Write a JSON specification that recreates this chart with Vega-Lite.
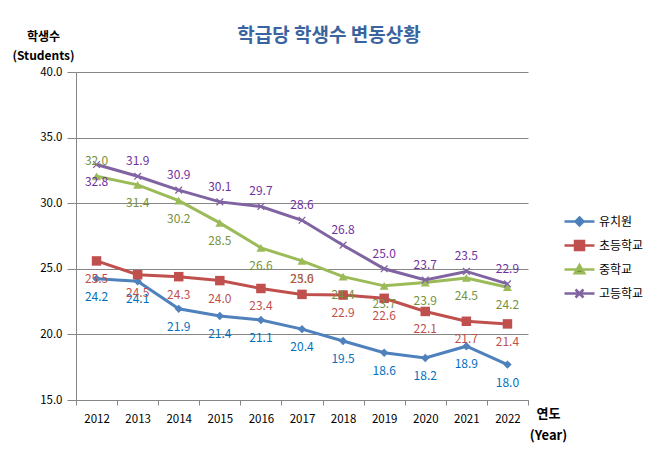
{
  "$schema": "https://vega.github.io/schema/vega-lite/v6.json",
  "width": 452,
  "height": 328,
  "autosize": {"type": "none"},
  "padding": {"left": 76, "top": 72, "right": 127, "bottom": 62},
  "background": "white",
  "title": {
    "text": "학급당 학생수 변동상황",
    "font": "Noto Sans CJK KR",
    "fontSize": 19,
    "fontWeight": "bold",
    "color": "#3a64a0",
    "anchor": "middle",
    "frame": "group",
    "dx": 27,
    "dy": 26,
    "offset": 10
  },
  "config": {
    "view": {"stroke": null},
    "font": "Noto Sans CJK KR"
  },
  "data": {
    "values": [
      {"series": "유치원", "year": "2012", "value": 24.25, "label": "24.2"},
      {"series": "유치원", "year": "2013", "value": 24.05, "label": "24.1"},
      {"series": "유치원", "year": "2014", "value": 21.95, "label": "21.9"},
      {"series": "유치원", "year": "2015", "value": 21.4, "label": "21.4"},
      {"series": "유치원", "year": "2016", "value": 21.1, "label": "21.1"},
      {"series": "유치원", "year": "2017", "value": 20.4, "label": "20.4"},
      {"series": "유치원", "year": "2018", "value": 19.5, "label": "19.5"},
      {"series": "유치원", "year": "2019", "value": 18.6, "label": "18.6"},
      {"series": "유치원", "year": "2020", "value": 18.2, "label": "18.2"},
      {"series": "유치원", "year": "2021", "value": 19.1, "label": "18.9"},
      {"series": "유치원", "year": "2022", "value": 17.7, "label": "18.0"},
      {"series": "초등학교", "year": "2012", "value": 25.6, "label": "25.5"},
      {"series": "초등학교", "year": "2013", "value": 24.55, "label": "24.5"},
      {"series": "초등학교", "year": "2014", "value": 24.4, "label": "24.3"},
      {"series": "초등학교", "year": "2015", "value": 24.1, "label": "24.0"},
      {"series": "초등학교", "year": "2016", "value": 23.5, "label": "23.4"},
      {"series": "초등학교", "year": "2017", "value": 23.05, "label": "23.0"},
      {"series": "초등학교", "year": "2018", "value": 23.0, "label": "22.9"},
      {"series": "초등학교", "year": "2019", "value": 22.75, "label": "22.6"},
      {"series": "초등학교", "year": "2020", "value": 21.75, "label": "22.1"},
      {"series": "초등학교", "year": "2021", "value": 21.0, "label": "21.7"},
      {"series": "초등학교", "year": "2022", "value": 20.8, "label": "21.4"},
      {"series": "중학교", "year": "2012", "value": 32.05, "label": "32.0"},
      {"series": "중학교", "year": "2013", "value": 31.4, "label": "31.4"},
      {"series": "중학교", "year": "2014", "value": 30.2, "label": "30.2"},
      {"series": "중학교", "year": "2015", "value": 28.5, "label": "28.5"},
      {"series": "중학교", "year": "2016", "value": 26.6, "label": "26.6"},
      {"series": "중학교", "year": "2017", "value": 25.6, "label": "25.6"},
      {"series": "중학교", "year": "2018", "value": 24.4, "label": "24.4"},
      {"series": "중학교", "year": "2019", "value": 23.7, "label": "23.7"},
      {"series": "중학교", "year": "2020", "value": 23.95, "label": "23.9"},
      {"series": "중학교", "year": "2021", "value": 24.3, "label": "24.5"},
      {"series": "중학교", "year": "2022", "value": 23.6, "label": "24.2"},
      {"series": "고등학교", "year": "2012", "value": 32.95, "label": "32.8"},
      {"series": "고등학교", "year": "2013", "value": 32.05, "label": "31.9"},
      {"series": "고등학교", "year": "2014", "value": 31.0, "label": "30.9"},
      {"series": "고등학교", "year": "2015", "value": 30.1, "label": "30.1"},
      {"series": "고등학교", "year": "2016", "value": 29.75, "label": "29.7"},
      {"series": "고등학교", "year": "2017", "value": 28.7, "label": "28.6"},
      {"series": "고등학교", "year": "2018", "value": 26.8, "label": "26.8"},
      {"series": "고등학교", "year": "2019", "value": 25.0, "label": "25.0"},
      {"series": "고등학교", "year": "2020", "value": 24.15, "label": "23.7"},
      {"series": "고등학교", "year": "2021", "value": 24.8, "label": "23.5"},
      {"series": "고등학교", "year": "2022", "value": 23.85, "label": "22.9"}
    ]
  },
  "encoding": {
    "x": {
      "field": "year",
      "type": "ordinal",
      "bandPosition": 0.5,
      "scale": {"type": "band", "paddingInner": 0, "paddingOuter": 0},
      "axis": {
        "labelAngle": 0,
        "labelFont": "Noto Sans CJK KR",
        "labelFontSize": 11.5,
        "labelColor": "#000000",
        "labelPadding": 8,
        "domainColor": "#868686",
        "tickColor": "#868686",
        "tickBand": "extent",
        "tickSize": 5,
        "grid": false,
        "title": ["연도", "(Year)"],
        "titleFont": "Noto Sans CJK KR",
        "titleFontSize": 13,
        "titleFontWeight": "bold",
        "titleColor": "#000000",
        "titleAngle": 0,
        "titleAlign": "center",
        "titleBaseline": "middle",
        "titleX": 472,
        "titleY": 13,
        "titleLineHeight": 22
      }
    },
    "y": {
      "field": "value",
      "type": "quantitative",
      "scale": {"domain": [15, 40]},
      "axis": {
        "values": [15, 20, 25, 30, 35, 40],
        "format": ".1f",
        "labelFont": "Noto Sans CJK KR",
        "labelFontSize": 11.5,
        "labelColor": "#000000",
        "labelPadding": 5,
        "domainColor": "#868686",
        "tickColor": "#868686",
        "tickSize": 9,
        "gridColor": "#868686",
        "gridWidth": 1,
        "title": ["학생수", "(Students)"],
        "titleFont": "Noto Sans CJK KR",
        "titleFontSize": 12,
        "titleFontWeight": "bold",
        "titleColor": "#000000",
        "titleAngle": 0,
        "titleAlign": "center",
        "titleBaseline": "middle",
        "titleX": -33,
        "titleY": -36,
        "titleLineHeight": 19
      }
    }
  },
  "layer": [
    {
      "mark": {"type": "line", "strokeWidth": 3},
      "encoding": {
        "color": {
          "field": "series",
          "type": "nominal",
          "scale": {
            "domain": ["유치원", "초등학교", "중학교", "고등학교"],
            "range": ["#4f81bd", "#c0504d", "#9bbb59", "#8064a2"]
          },
          "legend": {
            "title": null,
            "orient": "none",
            "legendX": 497,
            "legendY": 143,
            "labelFont": "Noto Sans CJK KR",
            "labelFontSize": 12,
            "labelColor": "#000000",
            "symbolSize": 100,
            "symbolStrokeWidth": 2.5,
            "rowPadding": 5,
            "labelOffset": 13,
            "encode": {
              "symbols": {
                "update": {
                  "shape": {"signal": "datum.value == '유치원' ? 'M-3,0L3,0M0,-0.8L0.8,0L0,0.8L-0.8,0Z' : datum.value == '초등학교' ? 'M-3,0L3,0M-0.9,-0.9L0.9,-0.9L0.9,0.9L-0.9,0.9Z' : datum.value == '중학교' ? 'M-3,0L3,0M0,-0.9L0.95,0.75L-0.95,0.75Z' : 'M-3,0L3,0M-0.8,-0.8L0.8,0.8M-0.8,0.8L0.8,-0.8'"},
                  "fill": {"signal": "scale('color', datum.value)"},
                  "fillOpacity": {"value": 1}
                }
              }
            }
          }
        }
      }
    },
    {
      "transform": [{"filter": "datum.series == '유치원'"}],
      "mark": {"type": "point", "shape": "diamond", "filled": true, "color": "#4f81bd", "size": 70, "opacity": 1}
    },
    {
      "transform": [{"filter": "datum.series == '초등학교'"}],
      "mark": {"type": "point", "shape": "square", "filled": true, "color": "#c0504d", "size": 90, "opacity": 1}
    },
    {
      "transform": [{"filter": "datum.series == '중학교'"}],
      "mark": {"type": "point", "shape": "triangle-up", "filled": true, "color": "#9bbb59", "size": 80, "opacity": 1}
    },
    {
      "transform": [{"filter": "datum.series == '고등학교'"}],
      "mark": {"type": "point", "shape": "M-1,-1L1,1M-1,1L1,-1", "filled": false, "color": "#8064a2", "strokeWidth": 1.3, "size": 45, "opacity": 1}
    },
    {
      "transform": [
        {"filter": "!((datum.series == '고등학교' && datum.year != '2012') || (datum.series == '중학교' && datum.year == '2012') || (datum.series == '초등학교' && datum.year == '2017'))"}
      ],
      "mark": {"type": "text", "font": "Noto Sans CJK KR", "fontSize": 12, "baseline": "middle", "dy": 18},
      "encoding": {
        "text": {"field": "label"},
        "fill": {
          "field": "series",
          "type": "nominal",
          "legend": null,
          "scale": {
            "domain": ["유치원", "초등학교", "중학교", "고등학교"],
            "range": ["#0070c0", "#c0504d", "#76923c", "#7030a0"]
          }
        }
      }
    },
    {
      "transform": [
        {"filter": "(datum.series == '고등학교' && datum.year != '2012') || (datum.series == '중학교' && datum.year == '2012') || (datum.series == '초등학교' && datum.year == '2017')"}
      ],
      "mark": {"type": "text", "font": "Noto Sans CJK KR", "fontSize": 12, "baseline": "middle", "dy": -15},
      "encoding": {
        "text": {"field": "label"},
        "fill": {
          "field": "series",
          "type": "nominal",
          "legend": null
        }
      }
    }
  ]
}
